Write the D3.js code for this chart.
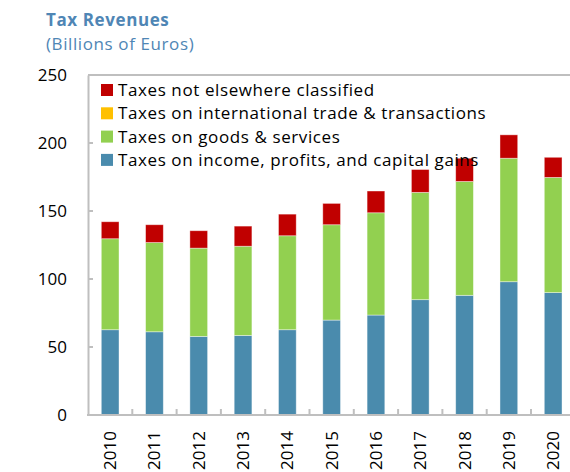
<!DOCTYPE html>
<html>
<head>
<meta charset="utf-8">
<script src="https://cdn.jsdelivr.net/npm/d3@7"></script>
<style>
  body { margin: 0; background: #fff; }
  svg { display: block; font-family: "Open Sans", "Noto Sans", sans-serif; }
</style>
</head>
<body>
<svg id="drawing_region"></svg>
<script>
// data (billions of euros)
const years = ["2010","2011","2012","2013","2014","2015","2016","2017","2018","2019","2020"];
const income = [62.7, 61.2, 57.8, 58.5, 62.7, 69.8, 73.5, 84.8, 88.0, 98.0, 90.0];
const goods  = [66.9, 65.6, 64.9, 65.6, 69.1, 70.1, 75.2, 78.9, 83.7, 90.8, 84.7];
const trade  = [0, 0, 0, 0, 0, 0, 0, 0, 0, 0, 0];
const other  = [12.5, 13.1, 12.8, 14.8, 15.9, 15.7, 16.0, 16.8, 17.1, 17.2, 14.8];
const yTicks = [0, 50, 100, 150, 200, 250];

const seriesKeys = ["income", "goods", "trade", "other"];
const seriesNames = {
    income: "Taxes on income, profits, and capital gains",
    goods: "Taxes on goods & services",
    trade: "Taxes on international trade & transactions",
    other: "Taxes not elsewhere classified"
};
const colors = { income: "#4A8BAD", goods: "#92D050", trade: "#FFC000", other: "#C00000" };

const rows = years.map((y, i) => ({
    year: y, income: income[i], goods: goods[i], trade: trade[i], other: other[i]
}));

const config = {
    width: 570,
    height: 472,
    left: 88,
    top: 75,
    bottom: 415,
    step: 44.3
};

const svg = d3.select("#drawing_region")
    .attr("width", config.width)
    .attr("height", config.height);

const xscale = d3.scaleBand()
    .domain(years)
    .range([config.left, config.left + config.step * years.length])
    .paddingInner(0.6)
    .paddingOuter(0.3);

const yscale = d3.scaleLinear()
    .domain([0, 250])
    .range([config.bottom, config.top]);

// bars
const stacked = d3.stack().keys(seriesKeys)(rows);

svg.append("g").selectAll("g")
    .data(stacked)
    .join("g")
    .attr("fill", d => colors[d.key])
    .selectAll("rect")
    .data(d => d.filter(p => p[1] - p[0] > 0))
    .join("rect")
    .attr("x", d => xscale(d.data.year))
    .attr("y", d => yscale(d[1]))
    .attr("width", xscale.bandwidth())
    .attr("height", d => yscale(d[0]) - yscale(d[1]))
    .attr("stroke", "#fff")
    .attr("stroke-opacity", 0.5)
    .attr("stroke-width", 0.8);

// frame lines
const axisColor = "#BFBFBF";
svg.append("line")
    .attr("x1", config.left).attr("x2", config.width)
    .attr("y1", config.top).attr("y2", config.top)
    .attr("stroke", axisColor).attr("stroke-width", 2);

// y axis
const yaxis = d3.axisLeft(yscale)
    .tickValues(yTicks)
    .tickSize(0)
    .tickPadding(21);

const yaxis_group = svg.append("g")
    .attr("transform", `translate(${config.left}, 0)`)
    .call(yaxis);
yaxis_group.select(".domain")
    .attr("stroke", axisColor).attr("stroke-width", 2);
yaxis_group.selectAll("text")
    .attr("font-size", "17px")
    .attr("fill", "#000")
    .attr("font-family", "'Open Sans', sans-serif");

svg.append("g").selectAll("line")
    .data(yTicks.slice(1, -1))
    .join("line")
    .attr("x1", config.left).attr("x2", config.left + 5)
    .attr("y1", d => yscale(d)).attr("y2", d => yscale(d))
    .attr("stroke", axisColor).attr("stroke-width", 2);

// x axis
const xaxis = d3.axisBottom(xscale)
    .tickSize(0)
    .tickSizeOuter(0);

const xaxis_group = svg.append("g")
    .attr("transform", `translate(0, ${config.bottom})`)
    .call(xaxis);
xaxis_group.select(".domain").remove();
xaxis_group.selectAll("text")
    .attr("font-size", "17px")
    .attr("fill", "#000")
    .attr("font-family", "'Open Sans', sans-serif")
    .attr("text-anchor", "end")
    .attr("transform", "translate(0, 16) rotate(-90)")
    .attr("x", 0)
    .attr("y", 0)
    .attr("dy", "0.35em");

svg.append("line")
    .attr("x1", config.left - 1).attr("x2", config.width)
    .attr("y1", config.bottom).attr("y2", config.bottom)
    .attr("stroke", axisColor).attr("stroke-width", 2);

svg.append("g").selectAll("line")
    .data(years.slice(0, -1))
    .join("line")
    .attr("x1", d => xscale(d) + xscale.bandwidth() / 2 + xscale.step() / 2)
    .attr("x2", d => xscale(d) + xscale.bandwidth() / 2 + xscale.step() / 2)
    .attr("y1", config.bottom).attr("y2", config.bottom - 6)
    .attr("stroke", axisColor).attr("stroke-width", 2);

// legend
const legendOrder = ["other", "trade", "goods", "income"];
const legend = svg.append("g")
    .attr("transform", "translate(101, 90)");

const item = legend.selectAll("g")
    .data(legendOrder)
    .join("g")
    .attr("transform", (d, i) => `translate(0, ${i * 23.3})`);

item.append("rect")
    .attr("x", 0).attr("y", -6)
    .attr("width", 12).attr("height", 12)
    .attr("fill", d => colors[d]);

item.append("text")
    .attr("x", 17)
    .attr("y", 0)
    .attr("dy", "0.35em")
    .attr("font-size", "17px")
    .attr("letter-spacing", "0.6px")
    .attr("fill", "#000")
    .text(d => seriesNames[d]);

// titles
svg.append("text")
    .attr("x", 46).attr("y", 26)
    .attr("font-size", "17px")
    .attr("font-weight", "bold")
    .attr("letter-spacing", "0.6px")
    .attr("fill", "#4F86B5")
    .text("Tax Revenues");

svg.append("text")
    .attr("x", 46).attr("y", 50)
    .attr("font-size", "17px")
    .attr("letter-spacing", "0.6px")
    .attr("fill", "#4F86B5")
    .text("(Billions of Euros)");
</script>
</body>
</html>
